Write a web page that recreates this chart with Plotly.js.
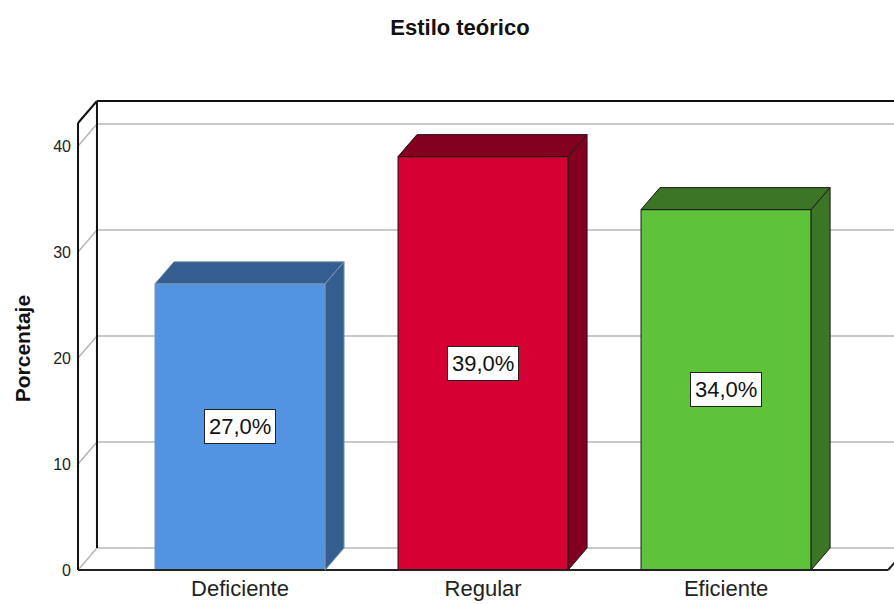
<!DOCTYPE html>
<html>
<head>
<meta charset="utf-8">
<script src="https://cdn.plot.ly/plotly-3.0.1.min.js"></script>
<style>html,body{margin:0;padding:0;background:#fff}#chart{width:894px;height:604px}</style>
</head>
<body>
<div id="chart"></div>
<script>
const categories = ['Deficiente', 'Regular', 'Eficiente'];
const values = [27.0, 39.0, 34.0];
const yTicks = [0, 10, 20, 30, 40];
const frontColors = ['#5294E2', '#D50032', '#5EC23A'];
const shadeColors = ['#345D90', '#830021', '#3C7526'];
const edgeColors = ['#7b95b5', '#1a1a1a', '#1a1a1a'];

// geometry (style constants)
const BAR_W = 0.70, DX = 0.078, DY = 2.075;
const X0 = -0.6667, XR = 2.667, XMAX = 2.691, YTOP = 42.17;
const YMIN = -0.283, YMAX = 44.434;
const FONT = 'Arial, "Liberation Sans", sans-serif';

const idx = categories.map((c, i) => i);
const fmt = v => v.toFixed(1).replace('.', ',') + '%';

const shapes = [];
const line = (x0, y0, x1, y1, color, width, layer) =>
  shapes.push({type: 'line', xref: 'x', yref: 'y', x0, y0, x1, y1, layer: layer || 'below',
               line: {color, width}});

// back wall gridlines and left wall diagonals
yTicks.forEach(k => {
  line(X0 + DX, k + DY, XMAX + 1, k + DY, '#c9c9c9', 2, 'below');
  line(X0, k, X0 + DX, k + DY, '#b5b5b5', 1.5, 'below');
});
// frame
line(X0 + DX, DY, X0 + DX, YTOP + DY, '#111', 2, 'above');
line(X0 + DX, YTOP + DY, XMAX + 1, YTOP + DY, '#111', 2, 'above');
line(X0, YTOP, X0 + DX, YTOP + DY, '#111', 2, 'above');
line(X0, 0, X0, YTOP, '#111', 2, 'above');
line(X0, 0, XR, 0, '#222', 2, 'above');
line(XR, 0, XR + DX, DY, '#222', 2, 'above');

// 3D faces of bars
idx.forEach(i => {
  const v = values[i], L = i - BAR_W / 2, R = i + BAR_W / 2;
  shapes.push({type: 'path', xref: 'x', yref: 'y', layer: 'above',
    path: `M ${L},${v} L ${L + DX},${v + DY} L ${R + DX},${v + DY} L ${R},${v} Z`,
    fillcolor: shadeColors[i], line: {color: edgeColors[i], width: 1}});
  shapes.push({type: 'path', xref: 'x', yref: 'y', layer: 'above',
    path: `M ${R},0 L ${R + DX},${DY} L ${R + DX},${v + DY} L ${R},${v} Z`,
    fillcolor: shadeColors[i], line: {color: edgeColors[i], width: 1}});
});

const annotations = idx.map(i => ({
  x: i, y: values[i] / 2, xref: 'x', yref: 'y', text: fmt(values[i]), showarrow: false,
  font: {family: FONT, size: 22, color: '#111'}, bgcolor: '#fff',
  bordercolor: '#222', borderwidth: 1, borderpad: 4
}));
annotations.push({
  xref: 'paper', yref: 'paper', x: -0.066, y: 0.472, xanchor: 'center', yanchor: 'middle',
  text: 'Porcentaje', textangle: -90, showarrow: false,
  font: {family: FONT, size: 21, color: '#111', weight: 'bold'}
});

const trace = {
  type: 'bar', x: idx, y: values, width: BAR_W,
  marker: {color: frontColors, line: {color: edgeColors, width: 1}},
  hoverinfo: 'skip'
};

const layout = {
  width: 894, height: 604,
  margin: {l: 76, r: 0, t: 99, b: 31, pad: 0},
  paper_bgcolor: '#fff', plot_bgcolor: '#fff',
  showlegend: false,
  title: {text: 'Estilo teórico', font: {family: FONT, size: 22, color: '#111', weight: 'bold'},
          x: 0.5145, xref: 'container', xanchor: 'center', y: 0.955, yref: 'container', yanchor: 'middle'},
  xaxis: {range: [-0.675, XMAX], tickvals: idx, ticktext: categories, showgrid: false,
          zeroline: false, showline: false, ticks: '', tickfont: {family: FONT, size: 22, color: '#222'}},
  yaxis: {range: [YMIN, YMAX], tickvals: yTicks, showgrid: false, zeroline: false, showline: false,
          ticks: '', ticklabelstandoff: 4, tickfont: {family: FONT, size: 16, color: '#222'}},
  shapes, annotations
};

Plotly.newPlot('chart', [trace], layout, {displayModeBar: false, staticPlot: true});
</script>
</body>
</html>
